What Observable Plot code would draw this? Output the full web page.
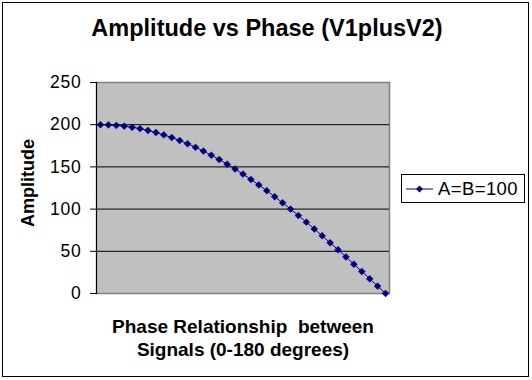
<!DOCTYPE html>
<html>
<head>
<meta charset="utf-8">
<script src="https://cdn.jsdelivr.net/npm/d3@7"></script>
<script src="https://cdn.jsdelivr.net/npm/@observablehq/plot@0.6"></script>
<style>
  html, body { margin: 0; padding: 0; background: #fff; }
  #wrap { position: relative; width: 532px; height: 380px; font-family: "Liberation Sans", Arial, sans-serif; }
  #border { position: absolute; left: 2px; top: 2px; width: 525px; height: 373px; border: 1.5px solid #000; pointer-events: none; }
  #legend { position: absolute; left: 401px; top: 174px; width: 122px; height: 27px; border: 1px solid #000; background: #fff; display: flex; align-items: center; font-size: 18.5px; letter-spacing: 0.4px; }
  #legend svg { margin-left: 4px; margin-right: 4px; }
  #ylabel { position: absolute; left: 28px; top: 183px; transform: translate(-50%, -50%) rotate(-90deg); font-weight: bold; font-size: 18px; white-space: nowrap; line-height: 1; }
</style>
</head>
<body>
<div id="wrap"><div id="border"></div></div>
<script>
const title = "Amplitude vs Phase (V1plusV2)";
const yLabel = "Amplitude";
const xLabel = "Phase Relationship  between\nSignals (0-180 degrees)";
const seriesName = "A=B=100";
const phase = [0,5,10,15,20,25,30,35,40,45,50,55,60,65,70,75,80,85,90,95,100,105,110,115,120,125,130,135,140,145,150,155,160,165,170,175,180];
const amplitude = [200,199.8,199.2,198.3,197.0,195.3,193.2,190.7,187.9,184.8,181.3,177.4,173.2,168.7,163.8,158.7,153.2,147.5,141.4,135.1,128.6,121.8,114.7,107.5,100,92.3,84.5,76.5,68.4,60.1,51.8,43.3,34.7,26.1,17.4,8.7,0];
const yTicks = [0,50,100,150,200,250];

const data = phase.map((p, i) => ({phase: p, amp: amplitude[i]}));
const navy = "#000080";
const font = "Liberation Sans, Arial, sans-serif";

const chart = Plot.plot({
  width: 532,
  height: 380,
  marginLeft: 96,
  marginRight: 143,
  marginTop: 82,
  marginBottom: 87,
  style: {fontFamily: font, fontSize: "16px", background: "transparent", color: "#000"},
  x: {domain: [phase[0] - 2.5, phase[phase.length - 1] + 2.5], axis: null},
  y: {domain: [yTicks[0], yTicks[yTicks.length - 1]], axis: null},
  marks: [
    Plot.frame({fill: "#C0C0C0", stroke: "#808080", strokeWidth: 1.5}),
    Plot.ruleY(yTicks.filter(v => v > yTicks[0] && v < yTicks[yTicks.length - 1]), {stroke: "#000", strokeWidth: 1}),
    Plot.frame({anchor: "left", stroke: "#000", strokeWidth: 1}),
    Plot.axisY({ticks: yTicks, tickSize: 6, tickPadding: 9, fontSize: 17.5, label: null, tickFormat: d => String(d)}),
    Plot.line(data, {x: "phase", y: "amp", stroke: navy, strokeWidth: 1}),
    Plot.dot(data, {x: "phase", y: "amp", symbol: "diamond2", r: 3.1, fill: navy, stroke: navy, strokeWidth: 0.5}),
    Plot.text([title], {frameAnchor: "top", lineAnchor: "bottom", dx: 24, dy: -47, fontSize: 23.5, fontWeight: "bold", fill: "#000"}),
    Plot.text([xLabel], {frameAnchor: "bottom", lineAnchor: "bottom", dy: 62, lineHeight: 1.2, fontSize: 19, fontWeight: "bold", fill: "#000"})
  ]
});
chart.querySelectorAll("text").forEach(t => t.setAttribute("xml:space", "preserve"));
chart.style.whiteSpace = "pre";
chart.querySelectorAll("[aria-label='y-axis tick label'] text").forEach(t => t.setAttribute("letter-spacing", "0.8"));
const wrap = document.getElementById("wrap");
wrap.insertBefore(chart, wrap.firstChild);

const yl = document.createElement("div");
yl.id = "ylabel";
yl.textContent = yLabel;
wrap.appendChild(yl);

const legend = document.createElement("div");
legend.id = "legend";
legend.innerHTML = `<svg width="28" height="10"><line x1="0" y1="5" x2="27" y2="5" stroke="${navy}" stroke-width="1"/><path d="M13.5,1.5 L17,5 L13.5,8.5 L10,5 Z" fill="${navy}"/></svg><span></span>`;
legend.querySelector("span").textContent = seriesName;
wrap.appendChild(legend);
</script>
</body>
</html>
